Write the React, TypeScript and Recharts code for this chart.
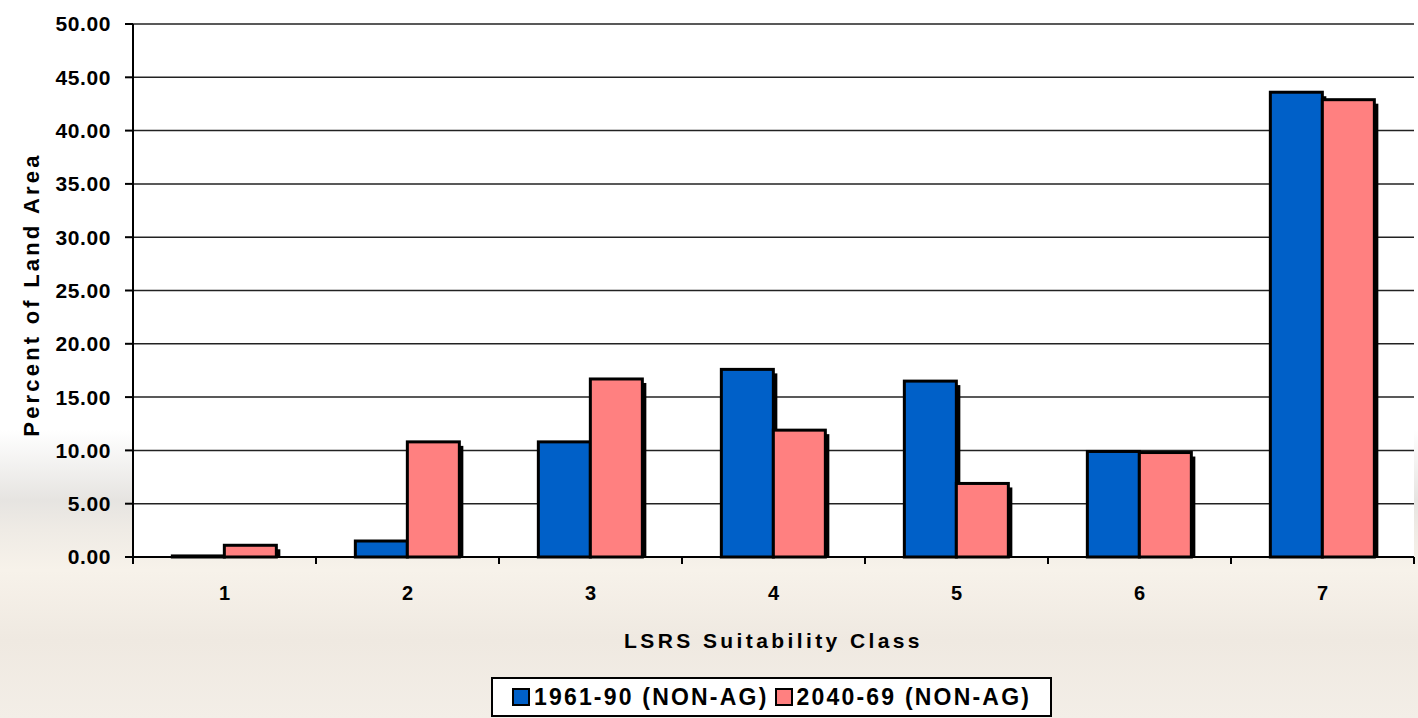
import React from "react";
import {
  BarChart,
  Bar,
  XAxis,
  YAxis,
  CartesianGrid,
  Label,
} from "recharts";

const classes = ["1", "2", "3", "4", "5", "6", "7"];
const baseline = [0.1, 1.5, 10.8, 17.6, 16.5, 9.9, 43.6];
const future = [1.1, 10.8, 16.7, 11.9, 6.9, 9.8, 42.9];
const yTicks = [0, 5, 10, 15, 20, 25, 30, 35, 40, 45, 50];

const series = [
  { key: "base", name: "1961-90 (NON-AG)", color: "#0060C8" },
  { key: "future", name: "2040-69 (NON-AG)", color: "#FF8080" },
];

const chartData = classes.map((c, i) => ({
  name: c,
  base: baseline[i],
  future: future[i],
}));

const W = 1418;
const H = 718;
const M = { top: 24, right: 4, left: 0, bottom: 0 };
const Y_W = 133;
const X_H = 161;
const FONT = "'Liberation Sans', Arial, sans-serif";
const BAND = (W - M.left - M.right - Y_W) / classes.length;

function ShadowBar(props: any) {
  const { x, y, width, height, fill } = props;
  if (width == null || height == null) return null;
  const h = Math.max(height, 0.5);
  return (
    <g>
      <rect x={x + 4} y={y + 4} width={width} height={Math.max(h - 4, 0)} fill="#000" />
      <rect x={x} y={y} width={width} height={h} fill={fill} stroke="#000" strokeWidth={3} />
    </g>
  );
}

function XTick(props: any) {
  const { x, y, payload, index } = props;
  const left = x - BAND / 2;
  return (
    <g>
      <line x1={left} y1={y - 8} x2={left} y2={y - 1} stroke="#000" strokeWidth={2} />
      {index === classes.length - 1 && (
        <line x1={left + BAND} y1={y - 8} x2={left + BAND} y2={y - 1} stroke="#000" strokeWidth={2} />
      )}
      <text x={x} y={y + 35} textAnchor="middle" fontFamily={FONT} fontWeight="bold" fontSize={20} fill="#000">
        {payload.value}
      </text>
    </g>
  );
}

function YTitle(props: any) {
  const vb = props.viewBox || {};
  const cx = 31;
  const cy = vb.y + vb.height / 2 + 4;
  return (
    <text
      x={cx}
      y={cy}
      transform={`rotate(-90, ${cx}, ${cy})`}
      textAnchor="middle"
      dominantBaseline="central"
      fontFamily={FONT}
      fontWeight="bold"
      fontSize={22}
      letterSpacing={3.2}
      fill="#000"
    >
      Percent of Land Area
    </text>
  );
}

export default function App() {
  return (
    <div
      style={{
        position: "absolute",
        left: 0,
        top: 0,
        width: W,
        height: H,
        background:
          "linear-gradient(to bottom, #ffffff 0px, #ffffff 430px, #e6e4e1 500px, #efebe5 530px, #f7f2ea 570px, #efe9e1 640px, #f3eee7 718px)",
      }}
    >
      <BarChart
        width={W}
        height={H}
        data={chartData}
        margin={M}
        barCategoryGap="21.5%"
        barGap={0}
      >
        <CartesianGrid vertical={false} fill="#fff" stroke="#222" strokeWidth={1.5} />
        <XAxis
          dataKey="name"
          height={X_H}
          axisLine={{ stroke: "#000", strokeWidth: 2 }}
          tickLine={false}
          tick={<XTick />}
          interval={0}
        >
          <Label
            value="LSRS Suitability Class"
            position="insideBottom"
            offset={70}
            fontFamily={FONT}
            fontWeight="bold"
            fontSize={21}
            letterSpacing={3.4}
            fill="#000"
          />
        </XAxis>
        <YAxis
          width={Y_W}
          domain={[0, 50]}
          ticks={yTicks}
          interval={0}
          tickFormatter={(v: number) => v.toFixed(2)}
          axisLine={{ stroke: "#000", strokeWidth: 2 }}
          tickLine={{ stroke: "#000", strokeWidth: 2 }}
          tickSize={8}
          tickMargin={14}
          tick={{ fontFamily: FONT, fontWeight: "bold", fontSize: 21, letterSpacing: 0.6, fill: "#000" }}
        >
          <Label content={<YTitle />} />
        </YAxis>
        <YAxis
          yAxisId="right"
          orientation="right"
          width={0}
          tick={false}
          tickLine={false}
          axisLine={{ stroke: "#444", strokeWidth: 1.5 }}
          domain={[0, 50]}
        />
        {series.map((s) => (
          <Bar
            key={s.key}
            dataKey={s.key}
            name={s.name}
            fill={s.color}
            shape={<ShadowBar />}
            isAnimationActive={false}
          />
        ))}
      </BarChart>
      <div
        style={{
          position: "absolute",
          left: 491,
          top: 677,
          width: 557,
          height: 36,
          border: "2px solid #000",
          background: "#fff",
          display: "flex",
          alignItems: "center",
          justifyContent: "center",
          gap: 6,
          fontFamily: FONT,
          fontWeight: "bold",
          fontSize: 23,
          letterSpacing: 2.2,
        }}
      >
        {series.map((s) => (
          <div key={s.key} style={{ display: "flex", alignItems: "center", gap: 4 }}>
            <span
              style={{
                display: "inline-block",
                width: 14,
                height: 14,
                background: s.color,
                border: "2px solid #000",
              }}
            />
            <span>{s.name}</span>
          </div>
        ))}
      </div>
    </div>
  );
}
